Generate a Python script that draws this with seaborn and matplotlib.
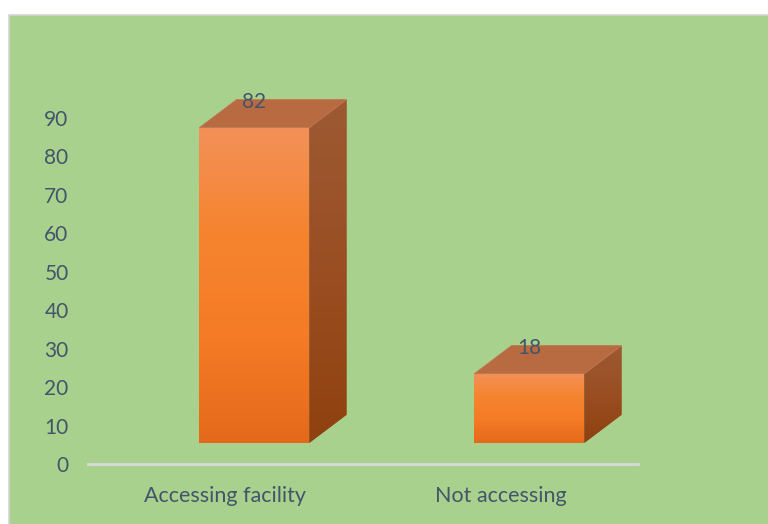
import numpy as np
import matplotlib
matplotlib.use("Agg")
import matplotlib.pyplot as plt
from matplotlib.patches import Polygon, Rectangle
from matplotlib.colors import LinearSegmentedColormap
import pandas as pd
import seaborn as sns

# Survey data
categories = ["Accessing facility", "Not accessing"]
values = [82, 18]
y_ticks = [0, 10, 20, 30, 40, 50, 60, 70, 80, 90]

sns.set_theme(style="white")
plt.rcParams["font.family"] = ["Lato", "DejaVu Sans"]

TEXT = "#44546a"
GREEN = "#a9d18e"
GRID = "#d9d9d9"

W, H = 768, 524
fig = plt.figure(figsize=(W / 100, H / 100), dpi=100, facecolor="white")

# green chart area with a thin light border
fig.patches.append(Rectangle((9 / W, -0.02), 1.0, 1 - 15 / H + 0.02,
                             transform=fig.transFigure, facecolor=GREEN,
                             edgecolor="#d4d4d4", lw=1.2, zorder=-1))

ax = fig.add_axes([88 / W, 60 / H, 550 / W, (464 - 79.6) / H])
ax.set_facecolor("none")

df = pd.DataFrame({"category": categories, "value": values})
sns.barplot(data=df, x="category", y="value", width=0.4, color="#f57f2c",
            saturation=1, ax=ax, zorder=2)

# pseudo-3D geometry (data units)
base = 5.5      # floor height of the front face
shift = 0.105   # front face offset from category centre
dx, dy = 0.135, 7.3

front_cmap = LinearSegmentedColormap.from_list(
    "front", ["#f39159", "#f6842f", "#f57b26", "#e5691a"])
side_cmap = LinearSegmentedColormap.from_list(
    "side", ["#9d5a33", "#9a4e22", "#8f410f"])
grad = np.linspace(0, 1, 256).reshape(-1, 1)

bars = list(ax.patches)
for bar, v in zip(bars, values):
    bar.set_x(bar.get_x() + shift)
    bar.set_y(base)
    bar.set_edgecolor("none")
    x0 = bar.get_x()
    x1 = x0 + bar.get_width()
    top = base + bar.get_height()

    im = ax.imshow(grad, extent=[x0, x1, base, top], aspect="auto",
                   cmap=front_cmap, zorder=3, interpolation="bilinear")
    im.set_clip_path(bar)

    side = Polygon([(x1, base), (x1 + dx, base + dy), (x1 + dx, top + dy), (x1, top)],
                   closed=True, facecolor="#984b1f", edgecolor="none", zorder=2)
    ax.add_patch(side)
    im2 = ax.imshow(grad, extent=[x1, x1 + dx, base, top + dy], aspect="auto",
                    cmap=side_cmap, zorder=3, interpolation="bilinear")
    im2.set_clip_path(side)

    lid = Polygon([(x0, top), (x0 + dx, top + dy), (x1 + dx, top + dy), (x1, top)],
                  closed=True, facecolor="#b86a41", edgecolor="#c0784e",
                  lw=0.6, zorder=4)
    ax.add_patch(lid)

    ax.text((x0 + x1) / 2, top + dy - 0.7, f"{v}", ha="center", va="center",
            fontsize=15, color=TEXT, zorder=5)

ax.set_xlim(-0.5, 1.5)
ax.set_ylim(0, 100)
ax.set_yticks(y_ticks)
ax.set_yticklabels([str(t) for t in y_ticks])
ax.set_xlabel("")
ax.set_ylabel("")
ax.tick_params(axis="y", length=0, pad=14, labelsize=15, labelcolor=TEXT)
ax.tick_params(axis="x", length=0, pad=16, labelsize=15.5, labelcolor=TEXT)
for s in ["left", "right", "top"]:
    ax.spines[s].set_visible(False)
ax.spines["bottom"].set_color(GRID)
ax.spines["bottom"].set_linewidth(2)

fig.savefig("out.png", dpi=100, facecolor="white")
